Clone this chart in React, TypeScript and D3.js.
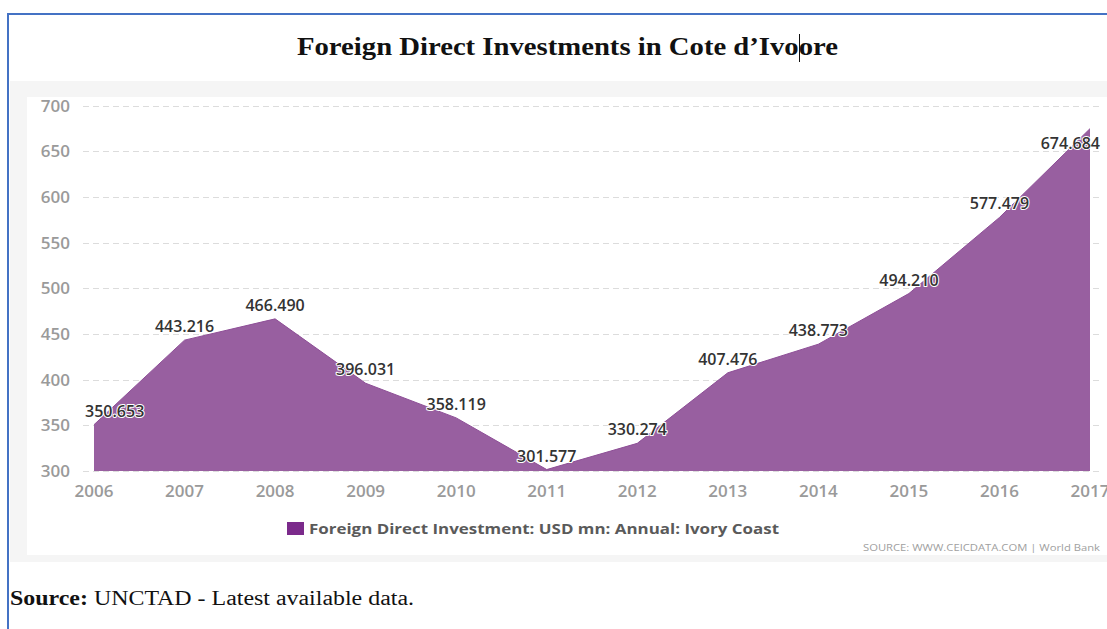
import { useEffect, useRef } from 'react';
import * as d3 from 'd3';

// values
const years = [2006, 2007, 2008, 2009, 2010, 2011, 2012, 2013, 2014, 2015, 2016, 2017];
const fdi = [350.653, 443.216, 466.49, 396.031, 358.119, 301.577, 330.274, 407.476, 438.773, 494.21, 577.479, 674.684];
const yTicks = [300, 350, 400, 450, 500, 550, 600, 650, 700];

const W = 1107;
const H = 629;

export default function App() {
  const svgRef = useRef<SVGSVGElement>(null);

  useEffect(() => {
    const svg = d3.select(svgRef.current);
    svg.selectAll('*').remove();

    svg.append('rect').attr('width', W).attr('height', H).attr('fill', '#fff');

    // page border (blue, top + left)
    svg.append('line').attr('x1', 8).attr('x2', W).attr('y1', 14).attr('y2', 14)
      .attr('stroke', '#4472c4').attr('stroke-width', 2);
    svg.append('line').attr('x1', 8).attr('x2', 8).attr('y1', 13).attr('y2', H)
      .attr('stroke', '#4472c4').attr('stroke-width', 2);

    // title
    svg.append('text')
      .attr('x', 297).attr('y', 55)
      .attr('textLength', 541).attr('lengthAdjust', 'spacingAndGlyphs')
      .style('font-family', '"Liberation Serif", "Times New Roman", serif')
      .style('font-weight', 'bold').style('font-size', '25px').style('fill', '#111')
      .text('Foreign Direct Investments in Cote d\u2019Ivoore');
    // text cursor
    svg.append('line').attr('x1', 799.5).attr('x2', 799.5).attr('y1', 34).attr('y2', 62)
      .attr('stroke', '#111').attr('stroke-width', 1);

    // chart panel
    svg.append('rect').attr('x', 10).attr('y', 81).attr('width', W - 10).attr('height', 481).attr('fill', '#f5f5f5');
    svg.append('rect').attr('x', 27).attr('y', 97).attr('width', W - 27).attr('height', 458).attr('fill', '#fff');

    const x = d3.scaleLinear().domain([2006, 2017]).range([94, 1090]);
    const y = d3.scaleLinear().domain([300, 700]).range([471, 105.5]);

    const font = '"Open Sans", "DejaVu Sans", sans-serif';

    // gridlines
    svg.append('g').selectAll('line').data(yTicks).join('line')
      .attr('x1', 83).attr('x2', 1101)
      .attr('y1', d => Math.round(y(d)) + 0.5).attr('y2', d => Math.round(y(d)) + 0.5)
      .attr('stroke', '#dcdcdc').attr('stroke-width', 1).attr('stroke-dasharray', '6,4');

    // area
    const area = d3.area<number>()
      .x((_, i) => x(years[i]))
      .y0(y(300))
      .y1(d => y(d));
    svg.append('path').datum(fdi).attr('d', area)
      .attr('fill', '#985fa0');
    const line = d3.line<number>().x((_, i) => x(years[i])).y(d => y(d));
    svg.append('path').datum(fdi).attr('d', line)
      .attr('fill', 'none').attr('stroke', '#8e4f97').attr('stroke-width', 1);

    // y axis labels
    svg.append('g').selectAll('text').data(yTicks).join('text')
      .attr('x', 70).attr('y', d => y(d) + 6)
      .attr('text-anchor', 'end')
      .style('font-family', font).style('font-size', '17px').style('font-weight', 600)
      .style('fill', '#9a9a9a')
      .text(d => d);

    // x axis labels (the last one runs off the edge, as in the original)
    svg.append('g').selectAll('text').data(years).join('text')
      .attr('x', d => x(d)).attr('y', 497)
      .attr('text-anchor', 'middle')
      .style('font-family', font).style('font-size', '17px').style('font-weight', 600)
      .style('fill', '#9a9a9a')
      .text(d => d);

    // data labels, kept inside the plot at both ends
    const last = fdi.length - 1;
    svg.append('g').selectAll('text').data(fdi).join('text')
      .attr('x', (d, i) => (i === last ? x(years[i]) + 10 : i === 0 ? x(years[i]) - 9 : x(years[i])))
      .attr('y', (d, i) => (i === last ? y(d) + 20 : y(d) - 8))
      .attr('text-anchor', (d, i) => (i === last ? 'end' : i === 0 ? 'start' : 'middle'))
      .style('font-family', font).style('font-size', '16px').style('font-weight', 600)
      .style('fill', '#333')
      .style('paint-order', 'stroke').style('stroke', '#fff').style('stroke-width', '2px')
      .style('stroke-linejoin', 'round')
      .text(d => d.toFixed(3));

    // legend
    svg.append('rect').attr('x', 287).attr('y', 522).attr('width', 17).attr('height', 13).attr('fill', '#7b2a8b');
    svg.append('text')
      .attr('x', 309).attr('y', 534)
      .attr('textLength', 470).attr('lengthAdjust', 'spacingAndGlyphs')
      .style('font-family', font).style('font-size', '14px').style('font-weight', 700)
      .style('fill', '#5a5a5a')
      .text('Foreign Direct Investment: USD mn: Annual: Ivory Coast');

    // credit
    svg.append('text')
      .attr('x', 1100).attr('y', 551)
      .attr('text-anchor', 'end')
      .attr('textLength', 237).attr('lengthAdjust', 'spacingAndGlyphs')
      .style('font-family', font).style('font-size', '9px')
      .style('fill', '#a0a0a0')
      .text('SOURCE: WWW.CEICDATA.COM | World Bank');

    // footnote
    const foot = svg.append('text')
      .attr('x', 10).attr('y', 605)
      .attr('textLength', 404).attr('lengthAdjust', 'spacingAndGlyphs')
      .style('font-family', '"Liberation Serif", "Times New Roman", serif')
      .style('font-size', '20px').style('fill', '#111');
    foot.append('tspan').style('font-weight', 'bold').text('Source:');
    foot.append('tspan').text(' UNCTAD - Latest available data.');
  }, []);

  return (
    <svg ref={svgRef} width={W} height={H}
      style={{ position: 'absolute', left: 0, top: 0, display: 'block' }} />
  );
}
